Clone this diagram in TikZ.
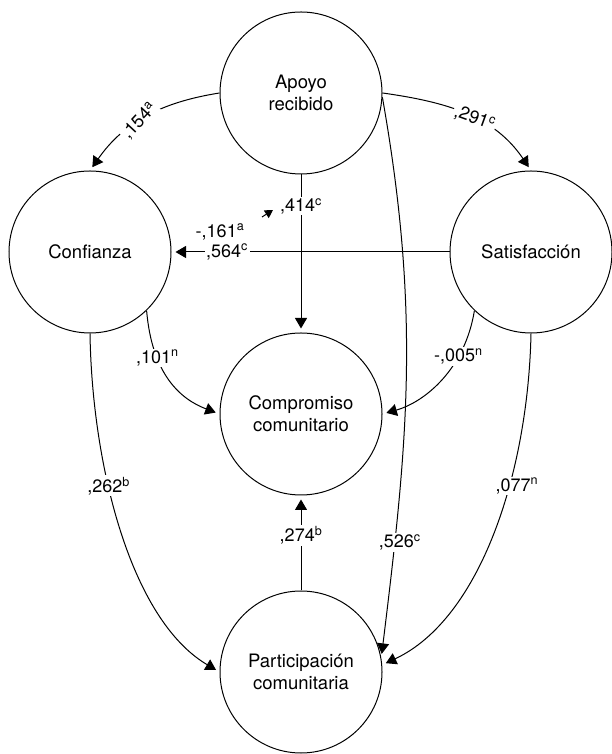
\documentclass[tikz,border=0pt]{standalone}
\usepackage{fontspec}
\setmainfont{TeX Gyre Heros}
\usetikzlibrary{arrows.meta}
\begin{document}
\begin{tikzpicture}[x=1pt,y=1pt,
  var/.style={circle, draw, line width=1pt, minimum size=162pt, inner sep=0pt, align=center, font=\fontsize{18.5}{22}\selectfont},
  arr/.style={line width=1pt, -{Triangle[length=10.5pt,width=12pt]}, shorten >=4pt},
  smallarr/.style={line width=1pt, -{Triangle[length=8pt,width=9pt]}},
  coef/.style={fill=white, inner sep=1.5pt, font=\fontsize{18}{21}\selectfont},
  plaincoef/.style={inner sep=1.5pt, font=\fontsize{18}{21}\selectfont},
]
\useasboundingbox (0,0) rectangle (611,754);
\node[var] (apoyo) at (301,661) {Apoyo\\recibido};
\node[var] (conf) at (90,502) {Confianza};
\node[var] (satis) at (531,502) {Satisfacción};
\node[var] (comp) at (301,340) {Compromiso\\comunitario};
\node[var] (part) at (301,82) {Participación\\comunitaria};

\draw[arr] (apoyo.west) to[out=189,in=55] node[coef, rotate=47, pos=0.55] {,154\textsuperscript{a}} (conf.north);
\draw[arr] (apoyo.east) to[out=-8,in=124] node[coef, rotate=-20, pos=0.55] {,291\textsuperscript{c}} (satis.north);
\draw[arr] (apoyo.south) -- node[coef, pos=0.2] {,414\textsuperscript{c}} (comp.north);
\draw[arr] (satis.west) -- node[coef, pos=0.8] {,564\textsuperscript{c}} (conf.east);
\draw[arr] (conf.-46) .. controls (152,380) and (180,355) .. node[coef, pos=0.3] {,101\textsuperscript{n}} (comp.west);
\draw[arr] (satis.-134) .. controls (465,385) and (425,352) .. node[coef, pos=0.3] {-,005\textsuperscript{n}} (comp.east);
\draw[arr] (conf.south) .. controls (92,290) and (130,135) .. node[coef, pos=0.38] {,262\textsuperscript{b}} (part.west);
\draw[arr] (satis.south) .. controls (528,280) and (480,135) .. node[coef, pos=0.37, xshift=8pt] {,077\textsuperscript{n}} (part.5);
\draw[arr] (apoyo.-3) to[out=-80,in=83] node[coef, pos=0.81, xshift=5pt] {,526\textsuperscript{c}} (part.10);
\draw[arr] (part.north) -- node[coef, pos=0.58] {,274\textsuperscript{b}} (comp.south);

\node[plaincoef] (l161) at (220,522) {-,161\textsuperscript{a}};
\coordinate (s1) at (262,537);
\coordinate (s2) at (273,544);
\draw[smallarr] (s1) -- (s2);
\end{tikzpicture}
\end{document}
